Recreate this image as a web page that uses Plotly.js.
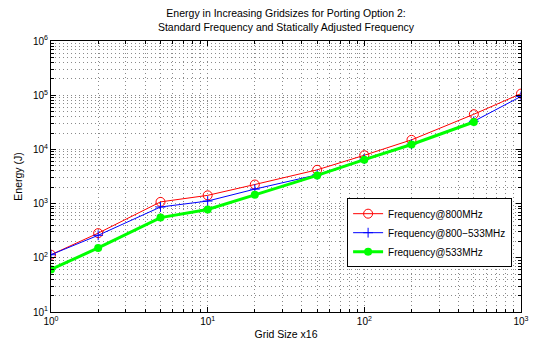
<!DOCTYPE html>
<html>
<head>
<meta charset="utf-8">
<script src="https://cdn.plot.ly/plotly-3.0.1.min.js"></script>
<style>html,body{margin:0;padding:0;background:#fff;}#chart{width:533px;height:340px;}</style>
</head>
<body>
<div id="chart"></div>
<script>
// Data
var gridSizes = [1, 2, 5, 10, 20, 50, 100, 200, 500, 1000];
var freq800 = [114, 285, 1075, 1420, 2250, 4200, 7800, 15000, 44500, 107000];
var freq800to533 = [114, 260, 865, 1115, 1850, 3400, 6600, 12500, 33000, 95000];
var gridSizes533 = [1, 2, 5, 10, 20, 50, 100, 200, 500];
var freq533 = [61, 152, 552, 780, 1450, 3310, 6460, 12300, 32000];

var xTickVals = [1, 10, 100, 1000];
var xTickText = ['10<sup>0</sup>', '10<sup>1</sup>', '10<sup>2</sup>', '10<sup>3</sup>'];
var yTickVals = [10, 100, 1000, 10000, 100000, 1000000];
var yTickText = ['10<sup>1</sup>', '10<sup>2</sup>', '10<sup>3</sup>', '10<sup>4</sup>', '10<sup>5</sup>', '10<sup>6</sup>'];

function minorVals(lo, hi) {
  var v = [];
  for (var p = lo; p < hi; p++) {
    for (var m = 2; m <= 9; m++) v.push(m * Math.pow(10, p));
  }
  return v;
}

var font = {family: 'Liberation Sans, Arial, Helvetica, sans-serif', color: '#000'};
var gridDash = '1px,3px';
var gridColor = '#8a8a8a';

var traces = [
  {
    x: gridSizes, y: freq800, name: 'Frequency@800MHz', mode: 'lines+markers',
    line: {color: '#ff0000', width: 1},
    marker: {symbol: 'circle-open', size: 9, color: '#ff0000', line: {width: 1, color: '#ff0000'}}
  },
  {
    x: gridSizes, y: freq800to533, name: 'Frequency@800\u2212533MHz', mode: 'lines+markers',
    line: {color: '#0000ff', width: 1},
    marker: {symbol: 'cross-thin-open', size: 7, color: '#0000ff', line: {width: 1, color: '#0000ff'}}
  },
  {
    x: gridSizes533, y: freq533, name: 'Frequency@533MHz', mode: 'lines+markers',
    line: {color: '#00ff00', width: 3},
    marker: {symbol: 'circle', size: 8, color: '#00ff00'}
  }
];

var axisCommon = {
  type: 'log',
  showline: true, linecolor: '#000', linewidth: 1, mirror: 'ticks',
  ticks: 'inside', ticklen: 5, tickcolor: '#000', tickwidth: 1,
  showgrid: true, gridcolor: gridColor, gridwidth: 1, griddash: gridDash,
  zeroline: false,
  tickmode: 'array',
  tickfont: {family: font.family, size: 10, color: '#000'}
};

var layout = {
  width: 533, height: 340,
  margin: {l: 51, r: 12, t: 41, b: 28},
  paper_bgcolor: '#fff', plot_bgcolor: '#fff',
  font: font,
  showlegend: true,
  title: {
    text: 'Energy in Increasing Gridsizes for Porting Option 2:<br>Standard Frequency and Statically Adjusted Frequency',
    font: {family: font.family, size: 10.5, color: '#000'},
    x: 0.5, xref: 'paper', y: 1 - 17 / 340, yref: 'container', yanchor: 'top'
  },
  xaxis: Object.assign({}, axisCommon, {
    range: [0, 3],
    tickvals: xTickVals, ticktext: xTickText,
    minor: {tickvals: minorVals(0, 3), ticks: 'inside', ticklen: 3, tickcolor: '#000',
            showgrid: true, gridcolor: gridColor, gridwidth: 1, griddash: gridDash},
    title: {text: 'Grid Size x16', font: {family: font.family, size: 10.5, color: '#000'}, standoff: 12}
  }),
  yaxis: Object.assign({}, axisCommon, {
    range: [1, 6],
    tickvals: yTickVals, ticktext: yTickText,
    minor: {tickvals: minorVals(1, 6), ticks: 'inside', ticklen: 3, tickcolor: '#000',
            showgrid: true, gridcolor: gridColor, gridwidth: 1, griddash: gridDash},
    title: {text: 'Energy (J)', font: {family: font.family, size: 10.5, color: '#000'}, standoff: 8}
  }),
  legend: {
    x: 0.63, y: 0.42, xanchor: 'left', yanchor: 'top',
    bgcolor: '#fff', bordercolor: '#000', borderwidth: 1,
    font: {family: font.family, size: 10, color: '#000'},
    tracegroupgap: 0, itemwidth: 30
  }
};

Plotly.newPlot('chart', traces, layout, {displayModeBar: false, staticPlot: true});
</script>
</body>
</html>
